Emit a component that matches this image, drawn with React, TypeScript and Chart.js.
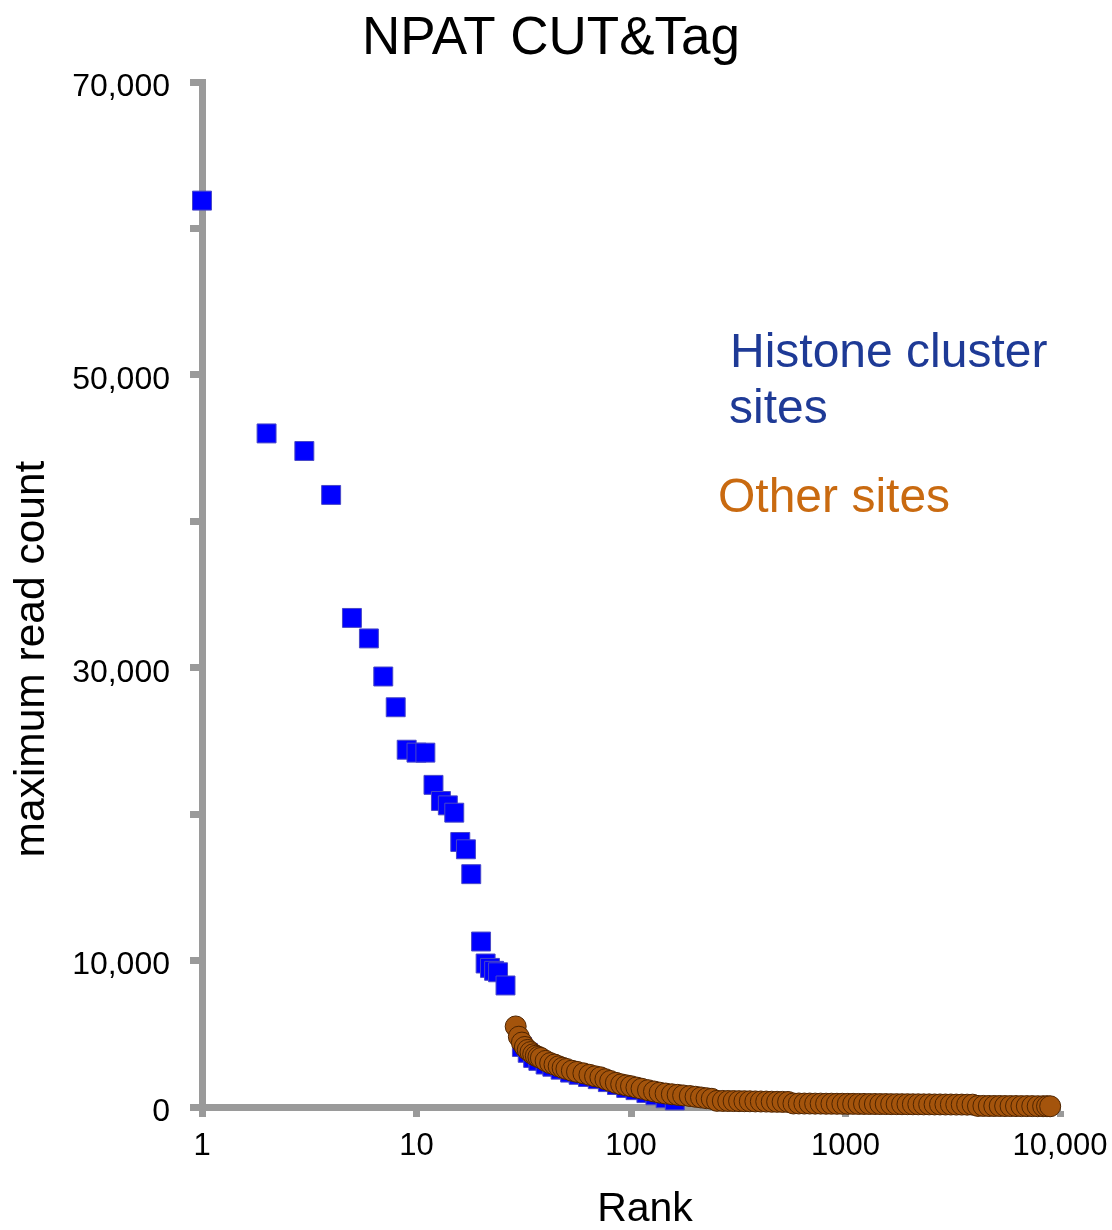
import React, { useEffect, useRef } from 'react';
import { Chart, registerables } from 'chart.js';

Chart.register(...registerables);

const FONT = '"Liberation Sans", Arial, Helvetica, sans-serif';

const chartTitle = 'NPAT CUT&Tag';
const xTitle = 'Rank';
const yTitle = 'maximum read count';
const legendHistone = ['Histone cluster', 'sites'];
const legendOther = 'Other sites';

const xTickValues = [1, 10, 100, 1000, 10000];
const xTickLabels = ['1', '10', '100', '1000', '10,000'];
const yTickValues = [0, 10000, 20000, 30000, 40000, 50000, 60000, 70000];
const yTickLabels = ['0', '10,000', '', '30,000', '', '50,000', '', '70,000'];

// Histone cluster sites (blue squares)
const histoneRanks = [
  1, 2, 3, 4, 5, 6, 7, 8, 9, 10, 11, 12, 13, 14, 15, 16, 17, 18, 20, 21, 22, 23, 24, 26,
  31, 33, 35, 37, 40, 43, 47, 52, 57, 63, 70, 78, 86, 95, 105, 118, 130, 145, 160,
];
const histoneCounts = [
  61900, 46000, 44800, 41800, 33400, 32000, 29400, 27300, 24400, 24200, 24200, 22000, 20900, 20600,
  20100, 18100, 17600, 15900, 11300, 9800, 9500, 9300, 9200, 8300,
  4100, 3700, 3350, 3150, 2900, 2750, 2550, 2350, 2200, 2050, 1900, 1700, 1500, 1300, 1150, 950,
  800, 600, 450,
];

// Other sites (brown circles)
const otherRanks = [
  29, 30, 31, 32, 33, 34, 35, 36, 37, 38, 40, 42, 44, 46, 48, 50, 53, 56, 60, 64, 68, 72, 76, 80,
  85, 90, 95, 100, 106, 112, 120, 128, 136, 145, 155, 165, 175, 188, 200, 212, 225, 238,
  252, 268, 284, 301, 319, 338, 358, 380, 403, 427, 453, 480, 509, 540,
  572, 606, 643, 681, 722, 766, 812, 860, 912, 967, 1025, 1086, 1151, 1220, 1293, 1371, 1453,
  1540, 1633, 1731, 1835, 1945, 2061, 2185, 2316, 2455, 2602, 2758, 2924, 3099, 3285, 3482,
  3690, 3912, 4146, 4395, 4659, 4938, 5235, 5549, 5882, 6235, 6609, 7005, 7425, 7871, 8343, 8700, 9000,
];
const otherCounts = [
  5500, 4800, 4400, 4100, 3900, 3750, 3600, 3500, 3420, 3350, 3150, 3000, 2900, 2780, 2680, 2600,
  2480, 2400, 2300, 2200, 2100, 2030, 1900, 1780, 1650, 1550, 1480, 1420, 1330, 1250, 1150, 1060,
  980, 920, 870, 830, 790, 750, 700, 650, 600, 560,
  420, 415, 410, 405, 400, 395, 390, 380, 375, 370, 360, 355, 350, 345,
  240, 240, 235, 235, 230, 230, 225, 225, 220, 220, 215, 215, 210, 210, 205, 205, 200,
  200, 195, 195, 190, 190, 185, 185, 180, 180, 175, 175, 170, 170, 165, 165, 160, 160,
  75, 75, 70, 70, 70, 65, 65, 65, 60, 60, 60, 55, 55, 55, 50, 50, 50,
];

const AXIS_GREY = '#9a9a9a';

const textPlugin = {
  id: 'annotTexts',
  afterDraw(chart: any) {
    const ctx = chart.ctx as CanvasRenderingContext2D;
    ctx.save();
    ctx.textBaseline = 'alphabetic';
    // title
    ctx.textAlign = 'center';
    ctx.font = `53px ${FONT}`;
    ctx.fillStyle = '#000000';
    ctx.fillText(chartTitle, 551, 54);
    // x title
    ctx.font = `41px ${FONT}`;
    ctx.fillText(xTitle, 645, 1221);
    // legend annotations
    ctx.textAlign = 'left';
    ctx.font = `48px ${FONT}`;
    ctx.fillStyle = '#1E3A96';
    ctx.fillText(legendHistone[0], 730, 367);
    ctx.fillText(legendHistone[1], 729, 423);
    ctx.fillStyle = '#C96A10';
    ctx.fillText(legendOther, 718, 512);
    // y title
    ctx.translate(44, 659);
    ctx.rotate(-Math.PI / 2);
    ctx.textAlign = 'center';
    ctx.font = `42.5px ${FONT}`;
    ctx.fillStyle = '#000000';
    ctx.fillText(yTitle, 0, 0);
    ctx.restore();
  },
};

export default function App() {
  const ref = useRef<HTMLCanvasElement | null>(null);

  useEffect(() => {
    if (!ref.current) return;
    const chart = new Chart(ref.current, {
      type: 'scatter',
      data: {
        datasets: [
          {
            label: legendOther,
            data: otherRanks.map((r, i) => ({ x: r, y: otherCounts[i] })),
            pointStyle: 'circle',
            pointRadius: 10.5,
            backgroundColor: '#A4540C',
            borderColor: '#4E2400',
            borderWidth: 1,
            clip: false,
            order: 0,
          },
          {
            label: legendHistone.join(' '),
            data: histoneRanks.map((r, i) => ({ x: r, y: histoneCounts[i] })),
            pointStyle: 'rect',
            pointRadius: 13.4,
            backgroundColor: '#0000FF',
            borderColor: '#4848C8',
            borderWidth: 1,
            clip: false,
            order: 1,
          },
        ],
      },
      options: {
        responsive: false,
        animation: false,
        events: [],
        layout: { padding: { left: 0, right: 52, top: 82, bottom: 0 } },
        plugins: {
          legend: { display: false },
          tooltip: { enabled: false },
          title: { display: false },
        },
        scales: {
          x: {
            type: 'logarithmic',
            min: 1,
            max: 10000,
            afterBuildTicks: (scale: any) => {
              scale.ticks = xTickValues.map((v) => ({ value: v }));
            },
            afterFit: (scale: any) => {
              scale.height = 123;
              scale.paddingLeft = 0;
              scale.paddingRight = 0;
            },
            ticks: {
              autoSkip: false,
              maxRotation: 0,
              padding: 11,
              color: '#000000',
              font: { family: FONT, size: 31 },
              callback: (v: any) => {
                const i = xTickValues.indexOf(Number(v));
                return i >= 0 ? xTickLabels[i] : '';
              },
            },
            grid: {
              display: true,
              drawOnChartArea: false,
              drawTicks: true,
              tickLength: 10,
              tickWidth: 7,
              tickColor: AXIS_GREY,
            },
            border: { display: true, color: AXIS_GREY, width: 7 },
          },
          y: {
            type: 'linear',
            min: 0,
            max: 70000,
            afterBuildTicks: (scale: any) => {
              scale.ticks = yTickValues.map((v) => ({ value: v }));
            },
            afterFit: (scale: any) => {
              scale.width = 202;
              scale.paddingTop = 0;
              scale.paddingBottom = 0;
            },
            ticks: {
              autoSkip: false,
              padding: 20,
              labelOffset: 5,
              color: '#000000',
              font: { family: FONT, size: 32 },
              callback: (v: any) => {
                const i = yTickValues.indexOf(Number(v));
                return i >= 0 ? yTickLabels[i] : '';
              },
            },
            grid: {
              display: true,
              drawOnChartArea: false,
              drawTicks: true,
              tickLength: 12,
              tickWidth: 7,
              tickColor: AXIS_GREY,
            },
            border: { display: true, color: AXIS_GREY, width: 7 },
          },
        },
      },
      plugins: [textPlugin],
    } as any);
    return () => chart.destroy();
  }, []);

  return (
    <div style={{ position: 'absolute', left: 0, top: 0, width: 1112, height: 1230, background: '#ffffff' }}>
      <canvas ref={ref} width={1112} height={1230} />
    </div>
  );
}
